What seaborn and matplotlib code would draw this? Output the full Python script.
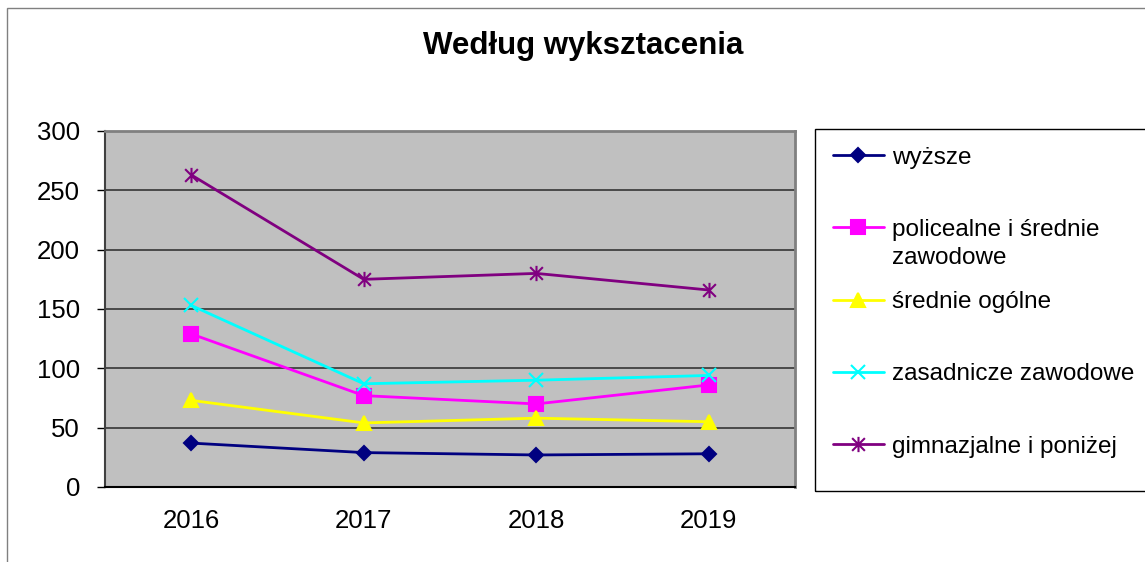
import matplotlib
matplotlib.use("Agg")
import matplotlib.pyplot as plt
import seaborn as sns
from matplotlib.path import Path
from matplotlib.patches import Rectangle
from matplotlib.ticker import FixedLocator
from matplotlib.transforms import offset_copy

years = ["2016", "2017", "2018", "2019"]
wyzsze = [37, 29, 27, 28]
policealne = [129, 77, 70, 86]
srednie_ogolne = [73, 54, 58, 55]
zasadnicze = [153, 87, 90, 94]
gimnazjalne = [263, 175, 180, 166]

labels = [
    "wyższe",
    "policealne i średnie",
    "średnie ogólne",
    "zasadnicze zawodowe",
    "gimnazjalne i poniżej",
]
series = [wyzsze, policealne, srednie_ogolne, zasadnicze, gimnazjalne]

# excel style asterisk: an x plus a vertical bar
asterisk = Path(
    [(-1, -1), (1, 1), (-1, 1), (1, -1), (0, -1.2), (0, 1.2)],
    [Path.MOVETO, Path.LINETO, Path.MOVETO, Path.LINETO, Path.MOVETO, Path.LINETO],
)
colors = ["#000080", "#FF00FF", "#FFFF00", "#00FFFF", "#800080"]
markers = ["D", "s", "^", "x", asterisk]
msizes = [7, 10, 10, 10, 11]

sns.set_style("white")
plt.rcParams["font.family"] = ["Liberation Sans", "DejaVu Sans"]
plt.rcParams["text.color"] = "black"

fig = plt.figure(figsize=(11.45, 5.62), dpi=100)
ax = fig.add_axes([105 / 1145, 1 - 487 / 562, 690 / 1145, 356 / 562])
ax.set_facecolor("#C0C0C0")

for vals, lab, c, m, ms in zip(series, labels, colors, markers, msizes):
    sns.lineplot(
        x=years, y=vals, ax=ax, color=c, marker=m, markersize=ms,
        markeredgecolor=c, markerfacecolor=c, markeredgewidth=1.5,
        linewidth=2, label=lab, sort=False,
    )

ax.set_xlim(-0.5, 3.5)
ax.set_ylim(0, 300)
ax.set_yticks(range(0, 301, 50))
ax.set_xticks(range(4))
ax.set_xticklabels(years)
ax.xaxis.set_minor_locator(FixedLocator([-0.5, 0.5, 1.5, 2.5, 3.5]))
ax.tick_params(axis="x", which="major", length=0, labelsize=18.5, pad=16,
               labelcolor="black")
ax.tick_params(axis="x", which="minor", length=6, width=1, color="black", direction="out")
ax.tick_params(axis="y", length=6, width=1, color="black", direction="out",
               labelsize=18.5, pad=12, left=True, labelcolor="black")
ax.set_xlabel("")
ax.set_ylabel("")
ax.grid(axis="y", color="#404040", linewidth=1.3)
ax.grid(axis="x", visible=False)
ax.set_axisbelow(True)
for side in ["top", "right"]:
    ax.spines[side].set_color("#808080")
    ax.spines[side].set_linewidth(2)
ax.spines["left"].set_color("#404040")
ax.spines["left"].set_linewidth(1.5)
ax.spines["bottom"].set_color("black")
ax.spines["bottom"].set_linewidth(1.5)

fig.text(583 / 1145, 1 - 46 / 562, "Według wyksztacenia", ha="center", va="center",
         fontsize=22.5, fontweight="bold")

leg = ax.legend(
    loc="upper left", bbox_to_anchor=(815 / 1145, 1 - 129 / 562),
    bbox_transform=fig.transFigure, frameon=False,
    fontsize=17.5, handlelength=2.1, handletextpad=0.35, borderpad=0.72,
    labelspacing=2.07, borderaxespad=0,
)

# legend box, taller than the entries as in the original
fig.patches.append(Rectangle((815 / 1145, 1 - 491 / 562), 0.4, 362 / 562,
                             transform=fig.transFigure, fill=False,
                             edgecolor="black", linewidth=1))

# second line of the wrapped legend label sits in the gap below its entry
fig.canvas.draw()
txt = leg.get_texts()[1]
bb = txt.get_window_extent()
fig.text(bb.x0 / fig.bbox.width, bb.y0 / fig.bbox.height, "zawodowe",
         transform=offset_copy(fig.transFigure, fig=fig, y=-28, units="dots"),
         ha="left", va="bottom", fontsize=17.5)

# outer chart frame (right and bottom lie outside the image)
fig.patches.append(Rectangle((7 / 1145, -0.1), 1.2, 1 - 8 / 562 + 0.1,
                             transform=fig.transFigure, fill=False,
                             edgecolor="#808080", linewidth=1))

fig.savefig("out.png", dpi=100)
